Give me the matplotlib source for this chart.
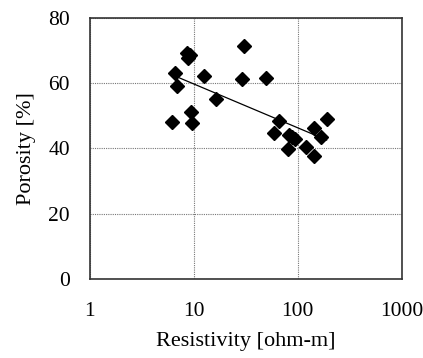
import numpy as np
import matplotlib
matplotlib.use("Agg")
import matplotlib.pyplot as plt

# resistivity [ohm-m] and porosity [%]
resistivity = [6.2, 6.6, 6.9, 8.6, 9.2, 8.8, 9.5, 9.7, 12.6, 16.3,
               30.3, 29.4, 50.0, 65.7, 59.7, 82.5, 93.6, 88.0, 81.4,
               119.0, 143.5, 142.5, 190.0, 169.0]
porosity = [48.0, 63.3, 59.3, 69.3, 68.6, 67.8, 51.3, 47.9, 62.2, 55.3,
            71.5, 61.3, 61.7, 48.4, 44.9, 44.1, 42.9, 43.6, 39.8,
            40.6, 37.8, 46.4, 49.0, 43.6]

x_ticks = [1, 10, 100, 1000]
y_ticks = [0, 20, 40, 60, 80]

plt.rcParams['font.family'] = ['Liberation Serif', 'DejaVu Serif']

x = np.array(resistivity)
y = np.array(porosity)

# logarithmic trend line
a, b = np.polyfit(np.log(x), y, 1)
xf = np.geomspace(x.min(), x.max(), 50)
yf = a * np.log(xf) + b

fig = plt.figure(figsize=(4.23, 3.58), dpi=100)
ax = fig.add_axes([0.2116, 0.2215, 0.7381, 0.7274])

ax.plot(xf, yf, color='black', lw=0.9, zorder=2)
ax.plot(x, y, 'D', color='black', markersize=7.5, zorder=3)

ax.set_xscale('log')
ax.set_xlim(1, 1000)
ax.set_ylim(0, 80)
ax.set_xticks(x_ticks)
ax.set_xticklabels([str(t) for t in x_ticks])
ax.set_yticks(y_ticks)
ax.minorticks_off()
ax.tick_params(length=0, labelsize=15.5, colors='black')
ax.tick_params(axis='x', pad=17)
ax.tick_params(axis='y', pad=14)

ax.grid(True, color='#777777', linestyle=(0, (1, 1)), lw=0.8)
ax.set_axisbelow(True)
for s in ax.spines.values():
    s.set_color('#333333')
    s.set_linewidth(1.2)

ax.set_xlabel('Resistivity [ohm-m]', fontsize=16, labelpad=8)
ax.set_ylabel('Porosity [%]', fontsize=16, labelpad=9)

fig.savefig('out.png', dpi=100)
